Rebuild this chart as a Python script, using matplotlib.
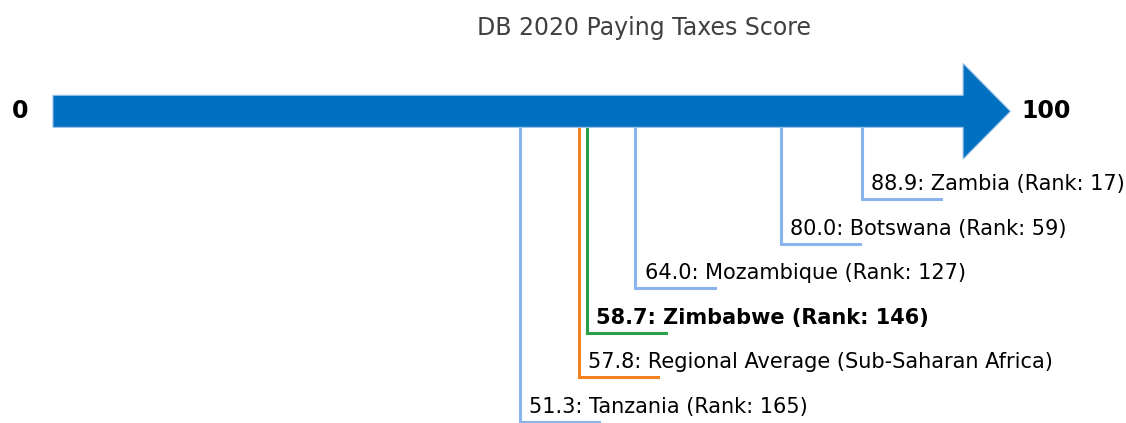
import matplotlib
matplotlib.use('Agg')
import matplotlib.pyplot as plt

# data
names = ['Zambia', 'Botswana', 'Mozambique', 'Zimbabwe',
         'Regional Average (Sub-Saharan Africa)', 'Tanzania']
scores = [88.9, 80.0, 64.0, 58.7, 57.8, 51.3]
ranks = [17, 59, 127, 146, None, 165]
colors = ['#8ab4f0', '#8ab4f0', '#8ab4f0', '#2ca048', '#f5821f', '#8ab4f0']
bold = [False, False, False, True, False, False]

fig = plt.figure(figsize=(11.26, 4.23), dpi=100)
ax = fig.add_axes([0, 0, 1, 1])
ax.set_xlim(-5.82, 117.9)
ax.set_ylim(-7.0, 2.5)
ax.axis('off')

# main arrow 0 -> 100
ax.arrow(0, 0, 100, 0, width=0.72, head_width=2.15, head_length=5.2,
         length_includes_head=False, facecolor='#0070c0',
         edgecolor='#9cc3ea', linewidth=0.8, zorder=3)
ax.text(-3.6, 0, '0', ha='center', va='center', fontsize=17, fontweight='bold')
ax.text(106.4, 0, '100', ha='left', va='center', fontsize=17, fontweight='bold')

bar_bottom = -0.36
for i, (name, s, r, c, b) in enumerate(zip(names, scores, ranks, colors, bold)):
    level = -1.97 - i
    ax.plot([s, s, s + 8.7], [bar_bottom, level, level], color=c,
            linewidth=2.2, solid_joinstyle='miter', zorder=2)
    label = f'{s:.1f}: {name}' if r is None else f'{s:.1f}: {name} (Rank: {r})'
    ax.text(s + 1.0, level + 0.2, label, ha='left', va='baseline',
            fontsize=15, fontweight='bold' if b else 'normal', color='black')

fig.text(0.572, 0.934, 'DB 2020 Paying Taxes Score', ha='center', va='center',
         fontsize=17, color='#404040')

fig.savefig('out.png', dpi=100)
